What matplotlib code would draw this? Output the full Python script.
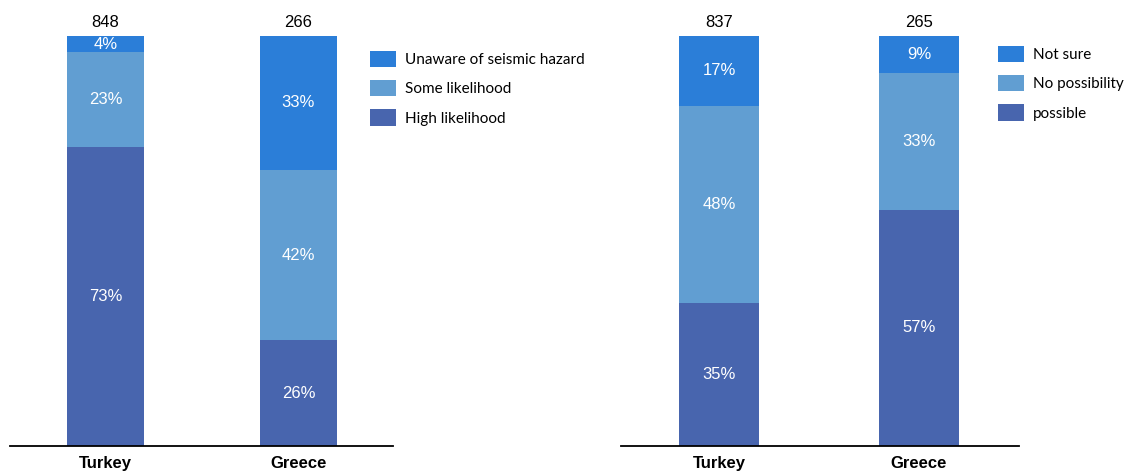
import matplotlib.pyplot as plt
import numpy as np

# data
countries = ['Turkey', 'Greece']

# left chart: awareness of seismic hazard
left_counts = [848, 266]
left_labels = ['High likelihood', 'Some likelihood', 'Unaware of seismic hazard']
left_vals = [[73, 26], [23, 42], [4, 33]]

# right chart: possibility
right_counts = [837, 265]
right_labels = ['possible', 'No possibility', 'Not sure']
right_vals = [[35, 57], [48, 33], [17, 9]]

colors = ['#4865AE', '#619ED2', '#2B7ED8']

fig = plt.figure(figsize=(11.32, 4.73), dpi=100)


def draw(ax, vals, counts, labels, width, xlim, leg_anchor):
    vals = np.array(vals, dtype=float)
    tot = vals.sum(axis=0)
    shares = vals / tot * 100  # stack to 100
    x = np.arange(len(countries))
    bottom = np.zeros(len(countries))
    handles = []
    for i in range(len(vals)):
        b = ax.bar(x, shares[i], width, bottom=bottom, color=colors[i],
                   label=labels[i])
        handles.append(b)
        for j in range(len(x)):
            ax.text(x[j], bottom[j] + shares[i][j] / 2, '%d%%' % vals[i][j],
                    ha='center', va='center', color='white', fontsize=12,
                    family='Liberation Sans')
        bottom += shares[i]
    for j in range(len(x)):
        ax.text(x[j], 101.5, str(counts[j]), ha='center', va='bottom',
                fontsize=12, family='Liberation Sans')
    ax.set_xlim(*xlim)
    ax.set_ylim(0, 100)
    ax.set_xticks(x)
    ax.set_xticklabels(countries, fontsize=12, fontweight='bold',
                       family=['Liberation Sans Narrow', 'Liberation Sans'])
    ax.tick_params(axis='x', length=0, pad=7.5)
    ax.set_yticks([])
    for s in ['top', 'right', 'left']:
        ax.spines[s].set_visible(False)
    ax.spines['bottom'].set_linewidth(1.3)
    h = handles[::-1]
    fig.legend(h, [hh.get_label() for hh in h], loc='upper left',
               bbox_to_anchor=leg_anchor, frameon=False,
               prop={'family': 'Lato', 'size': 11},
               handlelength=1.7, handleheight=1.25, handletextpad=0.6,
               labelspacing=0.85, borderpad=0, borderaxespad=0)


ax1 = fig.add_axes([10 / 1132, 27 / 473, 383 / 1132, 410 / 473])
draw(ax1, left_vals, left_counts, left_labels, 0.399, (-0.495, 1.49),
     (370 / 1132, 1 - 51 / 473))

ax2 = fig.add_axes([621 / 1132, 27 / 473, 398 / 1132, 410 / 473])
draw(ax2, right_vals, right_counts, right_labels, 0.4, (-0.49, 1.5),
     (998 / 1132, 1 - 46 / 473))

plt.savefig('out.png', dpi=100)
